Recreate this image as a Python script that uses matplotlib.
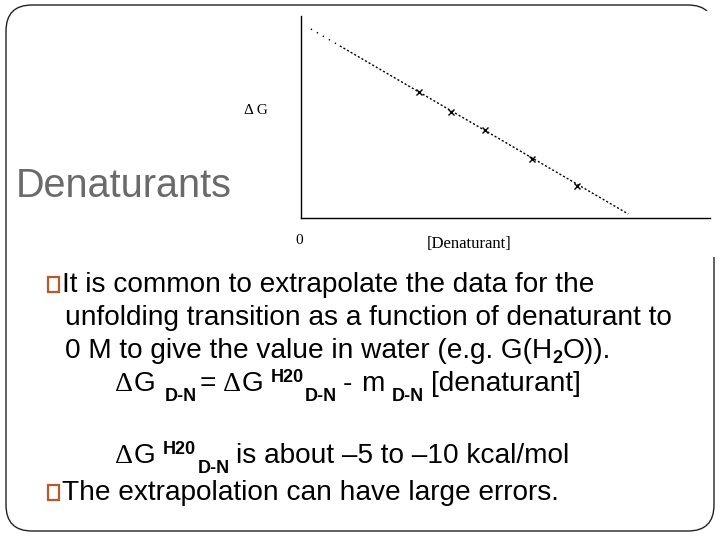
import matplotlib
matplotlib.use('Agg')
from matplotlib import pyplot as plt
from matplotlib.patches import FancyBboxPatch, Rectangle

# Inset plot values (axis units 0-10 on both axes)
extrap_x = [0.24, 0.95]
extrap_y = [9.36, 8.52]
fit_x = [0.95, 8.0]
fit_y = [8.52, 0.2]
points_x = [2.89, 3.67, 4.50, 5.65, 6.75]
points_y = [6.24, 5.25, 4.36, 2.92, 1.58]

# Slide text
title = 'Denaturants'
bullet1 = 'It is common to extrapolate the data for the'
line2 = 'unfolding transition as a function of denaturant to'
line3 = ['0 M to give the value in water (e.g. G(H', '2', 'O)).']
bullet2 = 'The extrapolation can have large errors.'

SANS = 'Liberation Sans'
SERIF = 'Liberation Serif'
BODY = 20.2
SMALL = 13


def draw_runs(ax, x, y, runs):
    # runs: (text, size, weight, dy, gap after, family)
    r = ax.figure.canvas.get_renderer()
    for text, size, weight, dy, gap, fam in runs:
        t = ax.text(x, y + dy, text, fontsize=size, fontweight=weight,
                    family=fam, va='baseline', ha='left')
        x += t.get_window_extent(r).width + gap


def delta_g(gap):
    return [('\u0394', BODY, 'normal', 0, 0.5, SERIF),
            ('G', BODY, 'normal', 0, gap, SANS)]


fig = plt.figure(figsize=(7.2, 5.4), dpi=100)
bg = fig.add_axes([0, 0, 1, 1])
bg.set_xlim(0, 720)
bg.set_ylim(540, 0)
bg.axis('off')

# Slide frame
bg.add_patch(FancyBboxPatch((6, 5), 708, 526, boxstyle='round,pad=0,rounding_size=26',
                            fill=False, edgecolor='#222222', linewidth=1.0))
# white picture pasted over the frame
bg.add_patch(Rectangle((236, 11), 484, 246, facecolor='white', edgecolor='none'))

bg.text(16, 197, title, fontsize=28.5, family=SANS, color='#6a6a6a', va='baseline')

# Bullets
for by in [292, 500]:
    bg.add_patch(Rectangle((47.5, by - 15.5), 11.5, 15.5, fill=False,
                           edgecolor='#b8582c', linewidth=1.6))
bg.text(62, 292, bullet1, fontsize=BODY, family=SANS, va='baseline')
bg.text(65, 325, line2, fontsize=BODY, family=SANS, va='baseline')
draw_runs(bg, 65, 358, [(line3[0], BODY, 'normal', 0, 0.5, SANS),
                        (line3[1], SMALL, 'bold', 5, 0.5, SANS),
                        (line3[2], BODY, 'normal', 0, 0, SANS)])
draw_runs(bg, 115, 391, delta_g(9)
          + [('D-N', SMALL, 'bold', 10, 3, SANS),
             ('=', BODY, 'normal', 0, 7, SANS)]
          + delta_g(8)
          + [('H20', SMALL, 'bold', -9, 1, SANS),
             ('D-N', SMALL, 'bold', 10, 6, SANS),
             ('-', BODY, 'normal', 0, 8, SANS),
             ('m', BODY, 'normal', 0, 8, SANS),
             ('D-N', SMALL, 'bold', 10, 7, SANS),
             ('[denaturant]', BODY, 'normal', 0, 0, SANS)])
draw_runs(bg, 115, 463, delta_g(8)
          + [('H20', SMALL, 'bold', -9, 1, SANS),
             ('D-N', SMALL, 'bold', 10, 7, SANS),
             ('is about \u20135 to \u201310 kcal/mol', BODY, 'normal', 0, 0, SANS)])
bg.text(62, 500, bullet2, fontsize=BODY, family=SANS, va='baseline')

# Inset plot
ax = fig.add_axes([301 / 720, 1 - 218 / 540, 409 / 720, 202 / 540])
ax.patch.set_alpha(0)
ax.set_xlim(0, 10)
ax.set_ylim(0, 10)
ax.spines['top'].set_visible(False)
ax.spines['right'].set_visible(False)
ax.spines['left'].set_linewidth(1.0)
ax.spines['bottom'].set_linewidth(1.0)
ax.set_xticks([])
ax.set_yticks([])

ax.plot(extrap_x, extrap_y, color='black', linewidth=1.0, linestyle=(0, (1, 4)))
ax.plot(fit_x, fit_y, color='black', linewidth=1.0, linestyle=(0, (1.5, 1.5)))
ax.plot(points_x, points_y, linestyle='none', marker='x', color='black',
        markersize=5, markeredgewidth=1.0)

bg.text(244, 110, '\u0394 G', fontsize=11, family=SERIF, va='center')
bg.text(299, 241, '0', fontsize=11, family=SERIF, va='center', ha='center')
bg.text(469, 244, '[Denaturant]', fontsize=12, family=SERIF,
        va='center', ha='center')

fig.savefig('out.png', dpi=100)
